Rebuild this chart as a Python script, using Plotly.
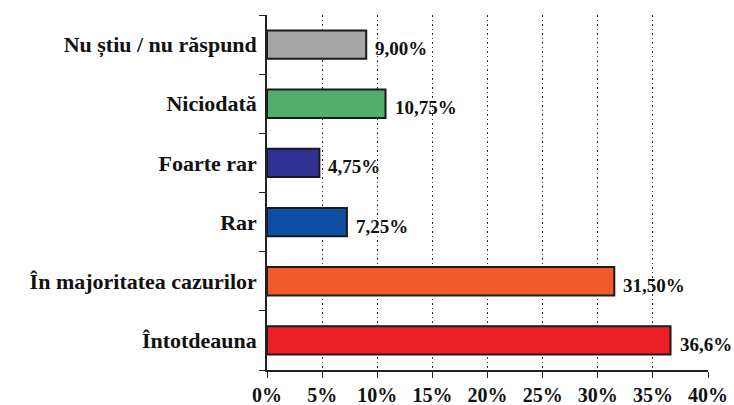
import plotly.graph_objects as go

categories = ["Întotdeauna", "În majoritatea cazurilor", "Rar", "Foarte rar", "Niciodată", "Nu știu / nu răspund"]
values = [36.6, 31.5, 7.25, 4.75, 10.75, 9.0]
value_labels = ["36,6%", "31,50%", "7,25%", "4,75%", "10,75%", "9,00%"]
colors = ["#EC2027", "#F15A2A", "#0E4FA3", "#2E3192", "#52AE6E", "#A6A6A6"]
x_ticks = [0, 5, 10, 15, 20, 25, 30, 35, 40]
x_tick_labels = ["0%", "5%", "10%", "15%", "20%", "25%", "30%", "35%", "40%"]

FONT = "Liberation Serif"

fig = go.Figure(go.Bar(
    y=categories, x=values, orientation="h",
    marker=dict(color=colors, line=dict(color="#1a1a1a", width=2)),
    width=0.48,
))

for cat, val, lab in zip(categories, values, value_labels):
    fig.add_annotation(
        x=val, y=cat, text=lab, showarrow=False,
        xanchor="left", yanchor="middle", xshift=7, yshift=-4,
        font=dict(family=FONT, size=19, color="#111", weight="bold"),
    )

fig.update_layout(
    width=734, height=405,
    margin=dict(l=267, r=26, t=15, b=35),
    plot_bgcolor="white", paper_bgcolor="white",
    showlegend=False,
    font=dict(family=FONT, color="#111", weight="bold"),
    xaxis=dict(
        range=[0, 40], tickvals=x_ticks, ticktext=x_tick_labels,
        showgrid=True, gridcolor="#333", griddash="1.5px,3px", gridwidth=1.3,
        showline=True, linecolor="#222", linewidth=1.5,
        ticks="outside", ticklen=6, tickcolor="#222",
        tickfont=dict(family=FONT, size=20, color="#111", weight="bold"),
        zeroline=False, fixedrange=True, automargin=False,
    ),
    yaxis=dict(
        type="category", categoryorder="array", categoryarray=categories,
        showline=True, linecolor="#222", linewidth=1.5,
        ticks="outside", ticklen=6, tickcolor="#222", tickson="boundaries",
        tickfont=dict(family=FONT, size=22, color="#111", weight="bold"),
        ticklabelstandoff=4,
        showgrid=False, fixedrange=True, automargin=False,
    ),
)

fig.write_html(
    "out.html",
    config={"displayModeBar": False},
    post_script="document.body.style.margin='0';document.body.style.overflow='hidden';",
)
